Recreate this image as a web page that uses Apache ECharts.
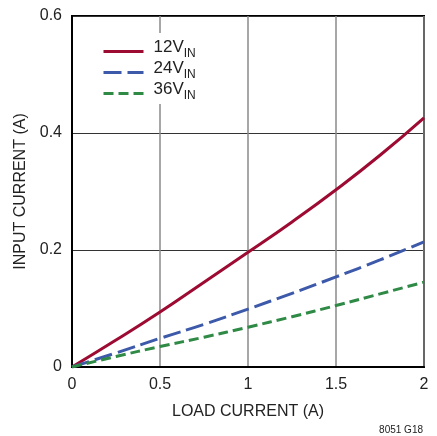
<!DOCTYPE html>
<html><head><meta charset="utf-8">
<script src="https://cdn.jsdelivr.net/npm/echarts@6/dist/echarts.min.js"></script>
<style>html,body{margin:0;padding:0;background:#fff}#c{width:437px;height:436px}</style>
</head><body><div id="c"></div>
<script>
const loadCurrent = [0, 0.25, 0.5, 0.75, 1, 1.25, 1.5, 1.75, 2];
const vin12 = [0, 0.046, 0.094, 0.145, 0.196, 0.248, 0.303, 0.362, 0.426];
const vin24 = [0, 0.024, 0.049, 0.073, 0.099, 0.126, 0.154, 0.183, 0.214];
const vin36 = [0, 0.018, 0.035, 0.051, 0.068, 0.086, 0.105, 0.125, 0.145];
const seriesNames = ['12V', '24V', '36V'];
const xTicks = ['0', '0.5', '1', '1.5', '2'];
const yTicks = ['0', '0.2', '0.4', '0.6'];

const FONT = "'Liberation Sans Narrow', 'Liberation Sans', Arial, sans-serif";
const pair = (xs, ys) => xs.map((x, i) => [x, ys[i]]);
const chart = echarts.init(document.getElementById('c'));
const mk = (name, data, color, type) => ({
  name: name, type: 'line', data: pair(loadCurrent, data), smooth: true,
  symbol: 'none', lineStyle: { color: color, width: 3, type: type }, itemStyle: { color: color }
});
chart.setOption({
  animation: false,
  grid: { left: 72, right: 13, top: 16, bottom: 69, show: true, borderColor: '#000', borderWidth: 2, outerBoundsMode: 'none' },
  legend: {
    orient: 'vertical', left: 100, top: 33, itemWidth: 40, itemHeight: 14, itemGap: -4,
    backgroundColor: '#fff', padding: [2, 4, 2, 2],
    itemStyle: { opacity: 0 },
    lineStyle: { width: 3 },
    data: seriesNames,
    formatter: n => '{a|' + n + '}{b|IN}',
    textStyle: {
      fontFamily: FONT, color: '#222',
      rich: {
        a: { fontSize: 17, fontFamily: FONT, color: '#222', lineHeight: 17, verticalAlign: 'bottom', padding: [4, 0, 4, 5] },
        b: { fontSize: 12, fontFamily: FONT, color: '#222', lineHeight: 12, verticalAlign: 'bottom' }
      }
    }
  },
  xAxis: {
    type: 'value', min: 0, max: 2, interval: 0.5,
    name: 'LOAD CURRENT (A)', nameLocation: 'middle', nameGap: 37,
    nameTextStyle: { fontFamily: FONT, fontSize: 16, color: '#222' },
    axisLine: { show: true, lineStyle: { color: '#000', width: 2 } },
    axisTick: { show: false },
    axisLabel: { margin: 10, fontFamily: FONT, fontSize: 16, color: '#222', formatter: (v) => xTicks[Math.round(v / 0.5)] },
    splitLine: { show: true, lineStyle: { color: '#8a8a8a', width: 1.5 } }
  },
  yAxis: {
    type: 'value', min: 0, max: 0.6, interval: 0.2,
    name: 'INPUT CURRENT (A)', nameLocation: 'middle', nameGap: 41,
    nameTextStyle: { fontFamily: FONT, fontSize: 16, color: '#222' },
    axisLine: { show: true, lineStyle: { color: '#000', width: 2 } },
    axisTick: { show: false },
    axisLabel: { margin: 10, fontFamily: FONT, fontSize: 16, color: '#222', formatter: (v) => yTicks[Math.round(v / 0.2)] },
    splitLine: { show: true, lineStyle: { color: '#333', width: 1 } }
  },
  graphic: [{
    type: 'text', right: 14, bottom: 1,
    style: { text: '8051 G18', fontFamily: FONT, fontSize: 10, fill: '#222' }
  }],
  series: [
    mk(seriesNames[0], vin12, '#9e0b32', 'solid'),
    mk(seriesNames[1], vin24, '#3d59a9', [18, 6]),
    mk(seriesNames[2], vin36, '#2f8a46', [10, 5])
  ]
});
</script></body></html>
